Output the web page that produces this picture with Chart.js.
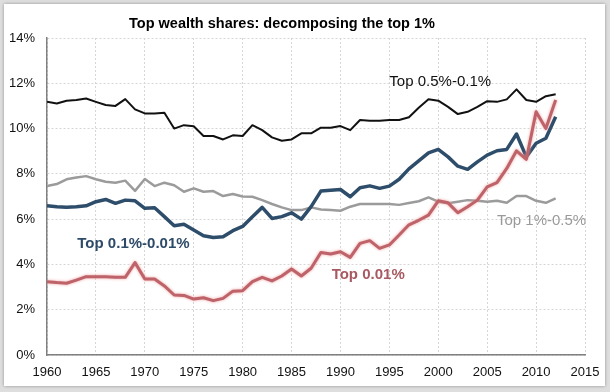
<!DOCTYPE html>
<html>
<head>
<meta charset="utf-8">
<script src="https://cdn.jsdelivr.net/npm/chart.js@4.4.1/dist/chart.umd.min.js"></script>
<style>
  html, body { margin: 0; padding: 0; background: #dedede; }
  #wrap { position: relative; width: 610px; height: 392px; overflow: hidden; }
  #card { position: absolute; left: 4px; top: 4px; width: 601px; height: 382px;
          background: #fff; box-shadow: 0 0 3px rgba(0,0,0,0.35); }
  #c { position: absolute; left: 0; top: 0; }
</style>
</head>
<body>
<div id="wrap">
  <div id="card"></div>
  <canvas id="c" width="610" height="392"></canvas>
</div>
<script>
// años de la serie
const years = [
  1960,1961,1962,1963,1964,1965,1966,1967,1968,1969,
  1970,1971,1972,1973,1974,1975,1976,1977,1978,1979,
  1980,1981,1982,1983,1984,1985,1986,1987,1988,1989,
  1990,1991,1992,1993,1994,1995,1996,1997,1998,1999,
  2000,2001,2002,2003,2004,2005,2006,2007,2008,2009,
  2010,2011,2012
];

// Top 0.5%-0.1%
const top05to01 = [
  11.18,11.11,11.23,11.26,11.33,11.18,11.04,11.00,11.30,10.85,
  10.67,10.67,10.70,10.00,10.15,10.10,9.67,9.67,9.52,9.70,
  9.67,10.15,9.93,9.61,9.46,9.52,9.79,9.79,10.04,10.04,
  10.11,9.93,10.38,10.35,10.35,10.38,10.38,10.50,10.92,11.29,
  11.23,10.96,10.64,10.74,10.96,11.21,11.18,11.29,11.73,11.26,
  11.18,11.43,11.52
];

// Top 1%-0.5%
const top1to05 = [
  7.46,7.55,7.76,7.84,7.90,7.76,7.65,7.61,7.70,7.25,
  7.77,7.46,7.61,7.50,7.21,7.36,7.21,7.24,7.02,7.11,
  7.00,6.99,6.84,6.67,6.52,6.40,6.40,6.52,6.43,6.40,
  6.37,6.55,6.67,6.67,6.67,6.67,6.63,6.71,6.79,6.96,
  6.77,6.70,6.77,6.84,6.81,6.77,6.81,6.72,7.02,7.02,
  6.81,6.72,6.92
];

// Top 0.1%-0.01%
const top01to001 = [
  6.59,6.55,6.52,6.55,6.59,6.77,6.87,6.70,6.84,6.81,
  6.48,6.50,6.11,5.71,5.77,5.52,5.27,5.19,5.22,5.49,
  5.68,6.11,6.52,6.03,6.11,6.28,6.00,6.55,7.24,7.28,
  7.31,6.99,7.39,7.47,7.36,7.46,7.76,8.22,8.57,8.93,
  9.08,8.75,8.34,8.20,8.53,8.83,9.02,9.08,9.76,8.75,
  9.35,9.57,10.52
];

// Top 0.01%
const top001 = [
  3.24,3.20,3.17,3.31,3.46,3.46,3.46,3.43,3.43,4.08,
  3.36,3.36,3.05,2.65,2.63,2.47,2.53,2.40,2.50,2.82,
  2.84,3.24,3.43,3.27,3.49,3.80,3.49,3.83,4.53,4.46,
  4.56,4.31,4.93,5.05,4.71,4.86,5.30,5.75,5.95,6.18,
  6.81,6.72,6.28,6.55,6.84,7.43,7.61,8.24,9.02,8.64,
  10.74,10.00,11.26
];

// ticks de los ejes
const xTicks = [1960,1965,1970,1975,1980,1985,1990,1995,2000,2005,2010,2015];
const yTicks = [0,2,4,6,8,10,12,14];

const FONT = "'Liberation Sans', Arial, sans-serif";
const pts = (arr) => arr.map((v, i) => ({ x: years[i], y: v }));

// etiquetas de cada serie, ancladas en coordenadas de datos
const seriesLabels = [
  { text: "Top 0.5%-0.1%", x: 1995.0, y: 12.05, color: "#111", bold: false },
  { text: "Top 0.1%-0.01%", x: 1963.1, y: 4.9, color: "#2d4b68", bold: true },
  { text: "Top 0.01%", x: 1989.1, y: 3.53, color: "#a85a62", bold: true },
  { text: "Top 1%-0.5%", x: 2006.0, y: 5.92, color: "#9a9a9a", bold: false },
];

// título y etiquetas dibujados sobre el canvas
const labelsPlugin = {
  id: "labels",
  afterDraw(chart) {
    const { ctx, scales: { x, y } } = chart;
    ctx.save();
    ctx.textBaseline = "middle";
    ctx.textAlign = "center";
    ctx.fillStyle = "#000";
    ctx.font = "bold 14.5px " + FONT;
    ctx.fillText("Top wealth shares: decomposing the top 1%", 282, 24);
    ctx.textAlign = "left";
    seriesLabels.forEach((l) => {
      ctx.font = (l.bold ? "bold " : "") + "15px " + FONT;
      ctx.fillStyle = l.color;
      ctx.fillText(l.text, x.getPixelForValue(l.x), y.getPixelForValue(l.y));
    });
    ctx.restore();
  },
};

// halo suave para la línea roja
const glowPlugin = {
  id: "glow",
  beforeDatasetDraw(chart, args) {
    if (args.index === 0) {
      chart.ctx.save();
      chart.ctx.shadowColor = "rgba(240,150,150,0.9)";
      chart.ctx.shadowBlur = 3;
    }
  },
  afterDatasetDraw(chart, args) {
    if (args.index === 0) chart.ctx.restore();
  },
};

new Chart(document.getElementById("c"), {
  type: "line",
  data: {
    datasets: [
      { label: "Top 0.01%", data: pts(top001), borderColor: "#bd6369", borderWidth: 3, order: 1 },
      { label: "Top 0.1%-0.01%", data: pts(top01to001), borderColor: "#2d4d6b", borderWidth: 3.5, order: 2 },
      { label: "Top 0.5%-0.1%", data: pts(top05to01), borderColor: "#111", borderWidth: 2, order: 3 },
      { label: "Top 1%-0.5%", data: pts(top1to05), borderColor: "#9b9b9b", borderWidth: 2.5, order: 4 },
    ],
  },
  options: {
    responsive: false,
    animation: false,
    devicePixelRatio: 1,
    layout: { padding: { top: 38, right: 25, left: 0, bottom: 0 } },
    elements: { point: { radius: 0 }, line: { tension: 0, borderJoinStyle: "round" } },
    plugins: { legend: { display: false }, tooltip: { enabled: false }, title: { display: false } },
    scales: {
      x: {
        type: "linear",
        min: 1960,
        max: 2015,
        afterBuildTicks: (s) => { s.ticks = xTicks.map((v) => ({ value: v })); },
        afterFit: (s) => { s.height = 37; },
        ticks: { color: "#111", font: { family: FONT, size: 13 }, padding: 10, maxRotation: 0, callback: (v) => String(v) },
        grid: { color: "#d6d6d6", lineWidth: 1, drawTicks: false },
        border: { color: "#808080", width: 1.5, dash: [2, 2] },
      },
      y: {
        min: 0,
        max: 14,
        afterBuildTicks: (s) => { s.ticks = yTicks.map((v) => ({ value: v })); },
        afterFit: (s) => { s.width = 47; },
        ticks: { color: "#111", font: { family: FONT, size: 13 }, padding: 12, callback: (v) => v + "%" },
        grid: { color: "#d6d6d6", lineWidth: 1, drawTicks: false },
        border: { color: "#808080", width: 1.5, dash: [2, 2] },
      },
    },
  },
  plugins: [glowPlugin, labelsPlugin],
});
</script>
</body>
</html>
